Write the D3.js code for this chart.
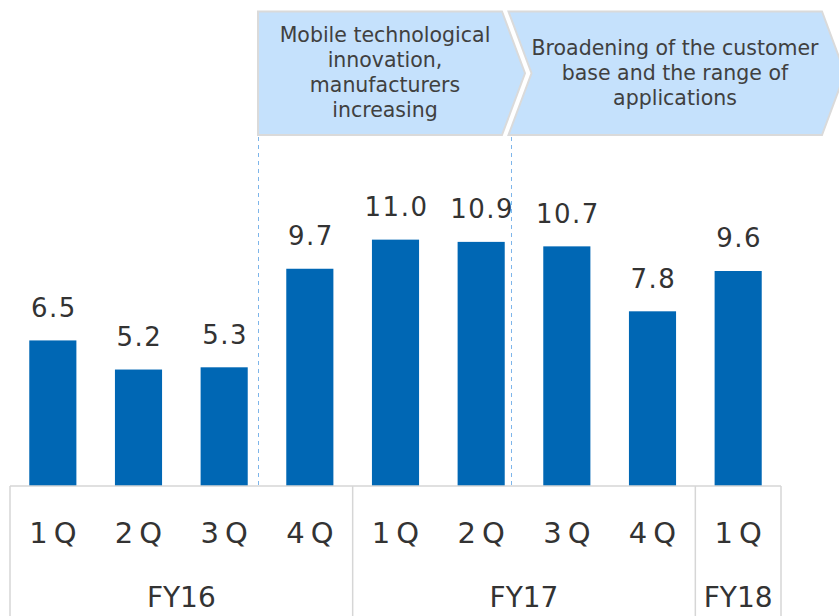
<!DOCTYPE html>
<html lang="en">
<head>
<meta charset="UTF-8">
<title>Quarterly values FY16-FY18</title>
<script src="https://d3js.org/d3.v7.min.js"></script>
<style>
body {margin: 0; background: white;}
svg {display: block;}
text {font-family: "DejaVu Sans", Verdana, sans-serif;}
</style>
</head>
<body>
<svg width="839" height="616"></svg>
<script>
// data
const quarters = ["1Q", "2Q", "3Q", "4Q", "1Q", "2Q", "3Q", "4Q", "1Q"];
const values = [6.5, 5.2, 5.3, 9.7, 11.0, 10.9, 10.7, 7.8, 9.6];
const years = ["FY16", "FY17", "FY18"];
const yearQuarters = [4, 4, 1];
const phaseLines = [
  ["Mobile technological", "innovation,", "manufacturers", "increasing"],
  ["Broadening of the customer", "base and the range of", "applications"]
];

const svg = d3.select("svg");
const base = 486, bottom = 616;

const x = d3.scaleBand()
  .domain(d3.range(values.length))
  .range([10, 781])
  .paddingInner(0.45)
  .paddingOuter(0.225);
const y = d3.scaleLinear().domain([0, 21.7]).range([base, 0]);
const cell = i => 10 + i * x.step();

// phase chevrons
const chTop = 11.5, chBot = 135, chMid = (chTop + chBot) / 2, tip = 23;
const chevrons = [
  {x0: 258, x1: 502, notch: false},
  {x0: 508.5, x1: 822, notch: true}
];
svg.selectAll(".chev")
  .data(chevrons)
  .enter().append("polygon")
  .attr("points", d => {
    let p = [[d.x0, chTop], [d.x1, chTop], [d.x1 + tip, chMid], [d.x1, chBot], [d.x0, chBot]];
    if (d.notch) p.push([d.x0 + tip, chMid]);
    return p.map(q => q.join(",")).join(" ");
  })
  .attr("fill", "#c5e1fc")
  .attr("stroke", "#dadada")
  .attr("stroke-width", 2);

const textCenters = [385, 675];
const firstBase = [41.5, 55];
phaseLines.forEach((lines, k) => {
  svg.append("g").selectAll("text")
    .data(lines)
    .enter().append("text")
    .attr("x", textCenters[k])
    .attr("y", (d, i) => firstBase[k] + i * 25)
    .attr("text-anchor", "middle")
    .attr("font-size", 20.5)
    .attr("fill", "#404040")
    .text(d => d);
});

// dashed phase separators
svg.selectAll(".sep")
  .data([258.5, 511.5])
  .enter().append("line")
  .attr("x1", d => d).attr("x2", d => d)
  .attr("y1", chBot + 2).attr("y2", base)
  .attr("stroke", "#7db5ea")
  .attr("stroke-width", 1)
  .attr("stroke-dasharray", "4,4");

// bars
svg.selectAll(".bar")
  .data(values)
  .enter().append("rect")
  .attr("x", (d, i) => x(i))
  .attr("y", d => y(d))
  .attr("width", x.bandwidth())
  .attr("height", d => y(0) - y(d))
  .attr("fill", "#0067b4");

svg.selectAll(".val")
  .data(values)
  .enter().append("text")
  .attr("x", (d, i) => x(i) + x.bandwidth() / 2 + 1)
  .attr("y", d => y(d) - 23.5)
  .attr("text-anchor", "middle")
  .attr("font-size", 26)
  .attr("letter-spacing", 1.5)
  .attr("fill", "#333")
  .text(d => d.toFixed(1));

// category table
const grid = svg.append("g").attr("stroke", "#d6d6d6").attr("stroke-width", 1.5);
grid.append("line").attr("x1", cell(0)).attr("x2", cell(values.length))
  .attr("y1", base).attr("y2", base);
let edges = [0], acc = 0;
yearQuarters.forEach(n => { acc += n; edges.push(acc); });
grid.selectAll(".v")
  .data(edges)
  .enter().append("line")
  .attr("x1", d => cell(d)).attr("x2", d => cell(d))
  .attr("y1", base).attr("y2", bottom);

svg.selectAll(".q")
  .data(quarters)
  .enter().append("text")
  .attr("x", (d, i) => x(i) + x.bandwidth() / 2 + 3)
  .attr("y", 542.5)
  .attr("text-anchor", "middle")
  .attr("font-size", 29)
  .attr("letter-spacing", 6)
  .attr("fill", "#333")
  .text(d => d);

svg.selectAll(".fy")
  .data(years)
  .enter().append("text")
  .attr("x", (d, i) => (cell(edges[i]) + cell(edges[i + 1])) / 2)
  .attr("y", 606.5)
  .attr("text-anchor", "middle")
  .attr("font-size", 28)
  .attr("fill", "#333")
  .text(d => d);
</script>
</body>
</html>
